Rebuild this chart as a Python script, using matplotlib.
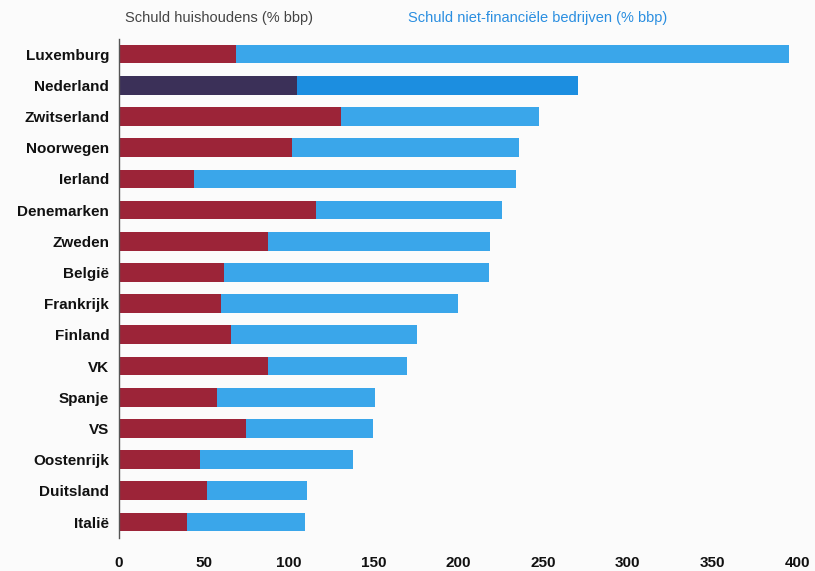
import matplotlib
matplotlib.use('Agg')
import matplotlib.pyplot as plt
import numpy as np

plt.rcParams['font.family'] = ['Liberation Sans', 'DejaVu Sans']

landen = ['Luxemburg', 'Nederland', 'Zwitserland', 'Noorwegen', 'Ierland', 'Denemarken',
          'Zweden', 'België', 'Frankrijk', 'Finland', 'VK', 'Spanje', 'VS',
          'Oostenrijk', 'Duitsland', 'Italië']
# schuld huishoudens (% bbp)
huishoudens = [69, 105, 131, 102, 44, 116, 88, 62, 60, 66, 88, 58, 75, 48, 52, 40]
totaal = [395, 271, 248, 236, 234, 226, 219, 218, 200, 176, 170, 151, 150, 138, 111, 110]
bedrijven = [t - h for t, h in zip(totaal, huishoudens)]

xticks = [0, 50, 100, 150, 200, 250, 300, 350, 400]

rood = '#9c2438'
blauw = '#3aa6ea'
rood_nl = '#3b3058'
blauw_nl = '#1c8ee0'

fig = plt.figure(figsize=(8.15, 5.71), dpi=100, facecolor='#fbfbfb')
ax = fig.add_axes([0.146, 0.0585, 0.832, 0.874])
ax.set_facecolor('#fbfbfb')

y = np.arange(len(landen))
kleur_r = [rood_nl if l == 'Nederland' else rood for l in landen]
kleur_b = [blauw_nl if l == 'Nederland' else blauw for l in landen]
ax.barh(y, huishoudens, height=0.6, color=kleur_r)
ax.barh(y, bedrijven, left=huishoudens, height=0.6, color=kleur_b)

ax.set_ylim(len(landen) - 0.5, -0.5)
ax.set_xlim(0, 400)
ax.set_yticks(y)
ax.set_yticklabels(landen, fontsize=11, fontweight='bold', color='#111111')
ax.set_xticks(xticks)
ax.set_xticklabels([str(v) for v in xticks], fontsize=11, fontweight='bold', color='#111111')
ax.tick_params(axis='y', length=0, pad=7)
ax.tick_params(axis='x', length=0, pad=13)
for s in ['top', 'right', 'bottom']:
    ax.spines[s].set_visible(False)
ax.spines['left'].set_color('#555555')
ax.spines['left'].set_linewidth(1.0)

fig.text(125 / 815, 1 - 18 / 571, 'Schuld huishoudens (% bbp)', fontsize=10.5,
         color='#444444', va='center', ha='left')
fig.text(408 / 815, 1 - 18 / 571, 'Schuld niet-financiële bedrijven (% bbp)', fontsize=10.5,
         color='#2a8ee0', va='center', ha='left')

fig.savefig('out.png', dpi=100, facecolor=fig.get_facecolor())
